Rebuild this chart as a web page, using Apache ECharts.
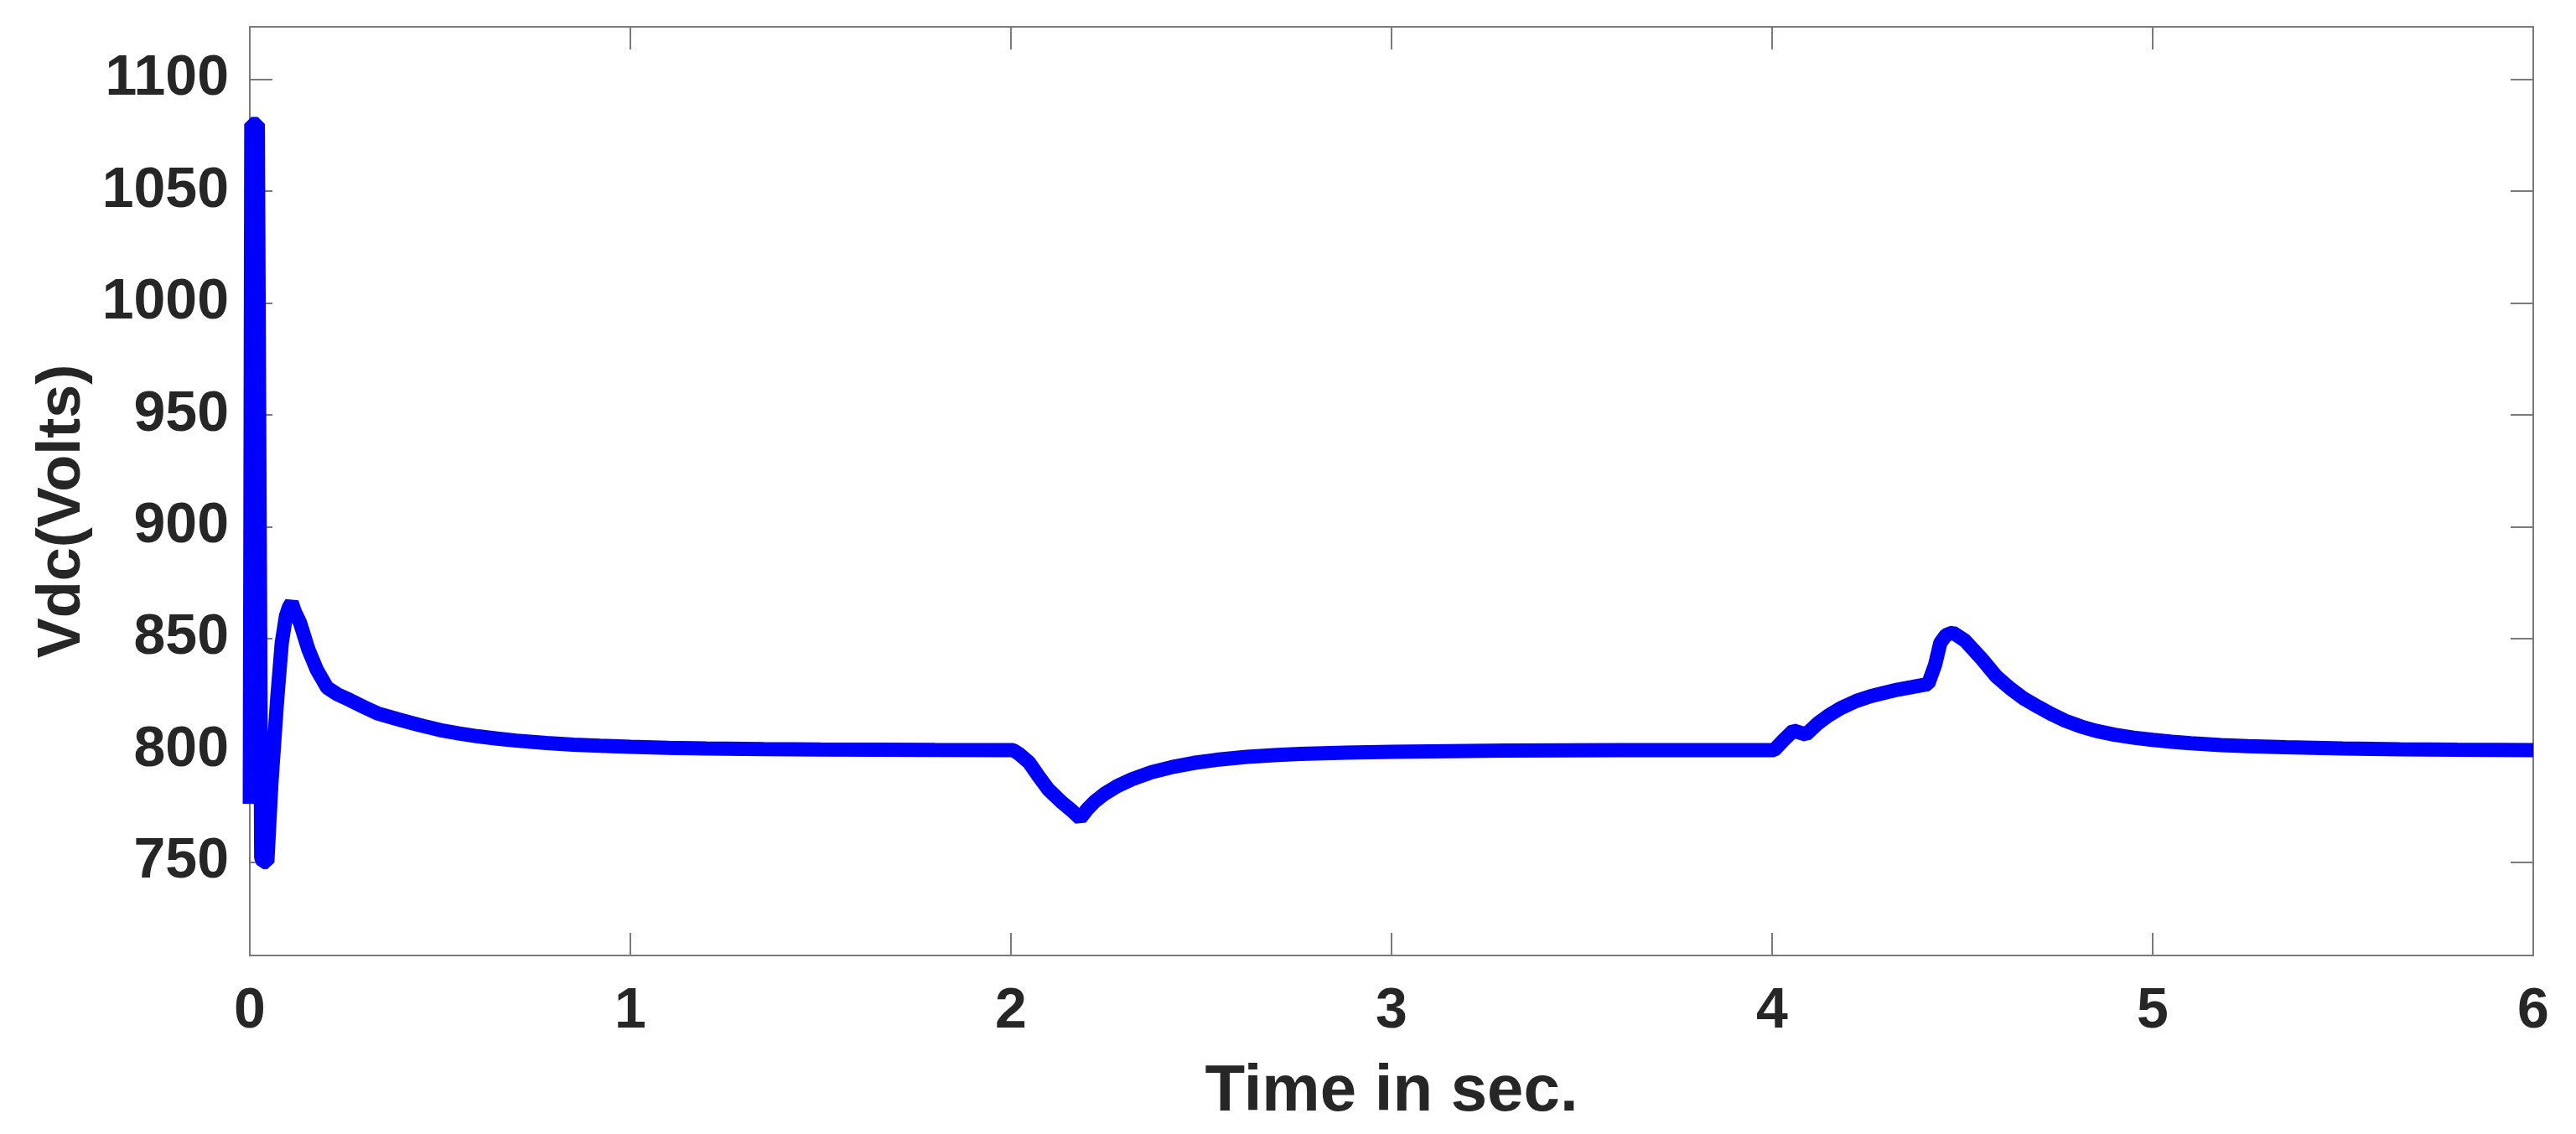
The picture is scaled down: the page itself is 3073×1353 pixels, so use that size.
<!DOCTYPE html>
<html>
<head>
<meta charset="utf-8">
<script src="https://cdn.jsdelivr.net/npm/echarts@6/dist/echarts.min.js"></script>
<style>
html,body{margin:0;padding:0;background:#fff;}
#chart{width:3073px;height:1353px;}
</style>
</head>
<body>
<div id="chart"></div>
<script>
// Time (s) and DC-link voltage (V)
var timeSec = [0, 0.004, 0.021, 0.030, 0.035, 0.046, 0.057, 0.072, 0.084, 0.095, 0.103, 0.110, 0.118, 0.132, 0.154, 0.176, 0.203, 0.23, 0.262, 0.3, 0.335, 0.39, 0.445, 0.5, 0.55, 0.6, 0.65, 0.7, 0.78, 0.85, 0.92, 1.0, 1.1, 1.2, 1.35, 1.5, 1.8, 2.0,
  2.006, 2.02, 2.047, 2.07, 2.098, 2.135, 2.16, 2.182, 2.2, 2.22, 2.246, 2.28, 2.318, 2.37, 2.43, 2.48, 2.54, 2.62, 2.7, 2.76, 2.88, 3.0, 3.15, 3.3, 3.6, 4.0,
  4.005, 4.03, 4.056, 4.089, 4.12, 4.148, 4.18, 4.221, 4.26, 4.296, 4.33, 4.369, 4.41, 4.428, 4.442, 4.457, 4.475, 4.507, 4.552, 4.589, 4.625, 4.662, 4.7, 4.736, 4.77, 4.81, 4.85, 4.9, 4.95, 5.0, 5.05, 5.1, 5.18, 5.25, 5.35, 5.5, 5.65, 5.8, 6.0];
var vdcVolts = [776, 1080, 1080, 752, 750, 750, 786, 823, 848, 860, 864, 866, 862, 857, 845, 836, 828, 825, 822.5, 819.3, 816.5, 813.8, 811.3, 809, 807.5, 806.2, 805.2, 804.3, 803.2, 802.5, 802, 801.5, 801.1, 800.8, 800.5, 800.3, 800.1, 800,
  800, 798.5, 794.6, 789, 782.5, 776.5, 773, 769.5, 773.5, 777, 780.5, 784, 787, 790.2, 792.7, 794.3, 795.7, 797, 797.9, 798.3, 798.9, 799.3, 799.6, 799.8, 800, 800,
  800, 804.5, 808.8, 807, 812, 815.5, 818.8, 822, 824.2, 825.7, 827.1, 828.3, 829.6, 838, 848, 851.5, 852.6, 849, 840.6, 833, 827.7, 823, 819.3, 816, 813.2, 810.7, 808.7, 806.9, 805.6, 804.6, 803.8, 803.1, 802.3, 801.8, 801.3, 800.8, 800.4, 800.2, 800];
var xTicks = [0, 1, 2, 3, 4, 5, 6];
var yTicks = [750, 800, 850, 900, 950, 1000, 1050, 1100];

var points = timeSec.map(function (t, i) { return [t, vdcVolts[i]]; });
var FONT = "'Liberation Sans', Arial, Helvetica, sans-serif";
var axisColor = '#7a7a7a';
var textColor = '#262626';
var yMin = 708.2, yMax = 1123.5;

var chart = echarts.init(document.getElementById('chart'), null, {renderer: 'canvas'});
var baseX = {
  type: 'value', min: xTicks[0], max: xTicks[xTicks.length - 1], interval: 1,
  axisLine: {show: true, onZero: false, lineStyle: {color: axisColor, width: 2}},
  axisTick: {show: true, inside: true, length: 27, lineStyle: {color: axisColor, width: 2}},
  splitLine: {show: false}
};
var baseY = {
  type: 'value', min: yMin, max: yMax, minInterval: 50, maxInterval: 50,
  axisLine: {show: true, onZero: false, lineStyle: {color: axisColor, width: 2}},
  axisTick: {show: true, inside: true, length: 27, lineStyle: {color: axisColor, width: 2}},
  splitLine: {show: false}
};
chart.setOption({
  backgroundColor: '#ffffff',
  animation: false,
  grid: {left: 298, right: 51, top: 32, bottom: 213, containLabel: false, outerBoundsMode: 'none'},
  xAxis: [
    Object.assign({}, baseX, {
      position: 'bottom',
      name: 'Time in sec.', nameLocation: 'middle', nameGap: 124,
      nameTextStyle: {fontFamily: FONT, fontWeight: 'bold', fontSize: 78, color: textColor},
      axisLabel: {show: true, margin: 33, fontFamily: FONT, fontWeight: 'bold', fontSize: 68, color: textColor,
        formatter: function (v) { return xTicks.indexOf(v) >= 0 ? String(v) : ''; }}
    }),
    Object.assign({}, baseX, {position: 'top', axisLabel: {show: false}})
  ],
  yAxis: [
    Object.assign({}, baseY, {
      position: 'left',
      name: 'Vdc(Volts)', nameLocation: 'middle', nameGap: 187,
      nameTextStyle: {fontFamily: FONT, fontWeight: 'bold', fontSize: 72, color: textColor, padding: [0, 48, 0, 0]},
      axisLabel: {show: true, margin: 25, showMinLabel: false, showMaxLabel: false,
        fontFamily: FONT, fontWeight: 'bold', fontSize: 68, color: textColor,
        formatter: function (v) { return yTicks.indexOf(Math.round(v)) >= 0 && Math.abs(v - Math.round(v)) < 1e-6 ? String(Math.round(v)) : ''; }}
    }),
    Object.assign({}, baseY, {position: 'right', axisLabel: {show: false}})
  ],
  series: [{
    type: 'line',
    xAxisIndex: 0, yAxisIndex: 0,
    data: points,
    showSymbol: false,
    symbol: 'none',
    clip: true,
    lineStyle: {color: '#0000ff', width: 17, join: 'bevel', cap: 'butt'}
  }]
});
</script>
</body>
</html>
